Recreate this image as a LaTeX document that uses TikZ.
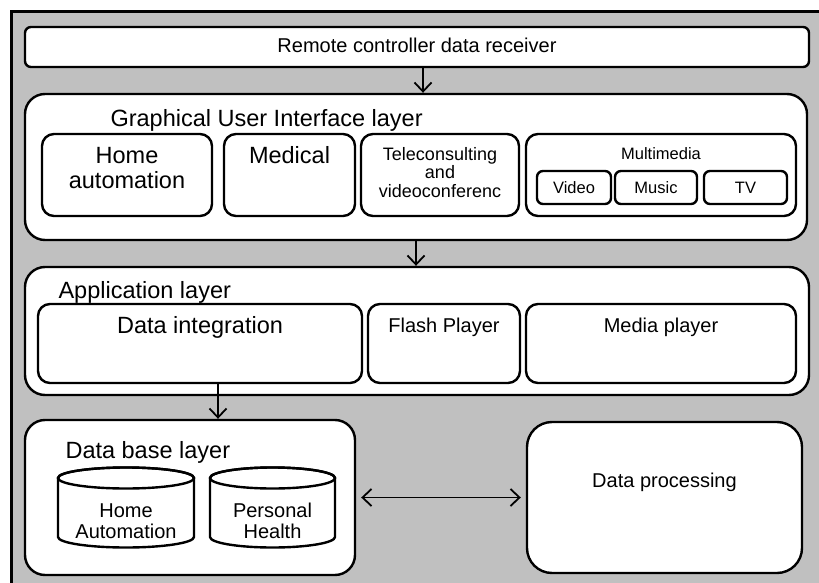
\documentclass[tikz,border=0pt]{standalone}
\usepackage{fontspec}
\setmainfont{Liberation Sans}
\usetikzlibrary{arrows.meta}
\definecolor{bggray}{RGB}{192,192,192}
\begin{document}
\begin{tikzpicture}[x=1pt,y=-1pt,
  box/.style={draw, fill=white, line width=2.4pt, inner sep=0pt, rounded corners=#1},
  box/.default=12pt,
  big/.style={font=\fontsize{23.5}{25}\selectfont, align=center, anchor=base},
  mid/.style={font=\fontsize{20}{21}\selectfont, align=center, anchor=base},
  small/.style={font=\fontsize{18}{18.5}\selectfont, align=center, anchor=base},
  tiny/.style={font=\fontsize{16.5}{17}\selectfont, align=center},
  >={Straight Barb[length=9pt,width=17pt]},
  arr/.style={line width=1.8pt, ->}]
\useasboundingbox (0,0) rectangle (819,583);
\clip (0,0) rectangle (819,583);
\draw[line width=2.4pt, fill=bggray] (11.5,11.5) rectangle (840,600);
% receiver
\node[box=6pt, minimum width=784pt, minimum height=40pt] (remote) at (417,47) {};
\node[mid] (remotetxt) at (417,53) {Remote controller data receiver};
% GUI layer
\node[box=20pt, minimum width=782pt, minimum height=146pt] (gui) at (416,167) {};
\node[big, anchor=base west] (guitxt) at (107,127) {Graphical User Interface layer};
\node[box, minimum width=170pt, minimum height=82pt] (home) at (127,175) {};
\node[big] (hometxt) at (127,188) {Home\\automation};
\node[box, minimum width=131pt, minimum height=82pt] (med) at (289.5,175) {};
\node[big] (medtxt) at (289.5,163) {Medical};
\node[box, minimum width=158pt, minimum height=82pt] (tele) at (440,175) {};
\node[small] (teletxt) at (440,197) {Teleconsulting\\and\\videoconferenc};
\node[box, minimum width=270pt, minimum height=82pt] (multi) at (661,175) {};
\node[tiny, anchor=base] (multitxt) at (661,159) {Multimedia};
\foreach \n/\x/\w/\t in {video/574/74/Video, music/656/82/Music, tv/745.5/83/TV}
  \node[box=6pt, tiny, minimum width=\w pt, minimum height=33pt] (\n) at (\x,187.5) {\t};
% application layer
\node[box=20pt, minimum width=784pt, minimum height=128pt] (app) at (417,331) {};
\node[big, anchor=base west] (apptxt) at (55,298) {Application layer};
\node[box, minimum width=324pt, minimum height=79pt] (dint) at (200,343.5) {};
\node[big] (dinttxt) at (200,333) {Data integration};
\node[box, minimum width=152pt, minimum height=79pt] (flash) at (444,343.5) {};
\node[mid] (flashtxt) at (444,332) {Flash Player};
\node[box, minimum width=270pt, minimum height=79pt] (media) at (661,343.5) {};
\node[mid] (mediatxt) at (661,332) {Media player};
% data base layer
\node[box=20pt, minimum width=330pt, minimum height=155pt] (base) at (190,497.5) {};
\node[big, anchor=base west] (basetxt) at (62,458) {Data base layer};
\foreach \cx/\w in {126/136, 272.5/125} {
  \filldraw[fill=white, line width=2.4pt] (\cx-\w/2,478) -- (\cx-\w/2,537)
    arc[start angle=180, end angle=0, x radius=\w/2, y radius=10.5] -- (\cx+\w/2,478)
    arc[start angle=0, end angle=-180, x radius=\w/2, y radius=10.5] -- cycle;
  \draw[line width=2.4pt] (\cx,478) ellipse[x radius=\w/2, y radius=10.5];
}
\node[mid] (homedbtxt) at (126,538) {Home\\Automation};
\node[mid] (healthdbtxt) at (272.5,538) {Personal\\Health};
\node[box=25pt, minimum width=275pt, minimum height=151pt] (proc) at (664.5,497.5) {};
\node[mid] (proctxt) at (664.5,487) {Data processing};
% connectors
\draw[arr] ([xshift=6pt]remote.south) -- ([xshift=6pt]remote.south |- gui.north);
\draw[arr] (gui.south) -- (gui.south |- app.north);
\draw[arr] ([xshift=18pt]dint.south) -- ([xshift=18pt]dint.south |- base.north);
\draw[arr, <->, shorten <=5pt, shorten >=5pt] (base.east) -- (proc.west);
\end{tikzpicture}
\end{document}
